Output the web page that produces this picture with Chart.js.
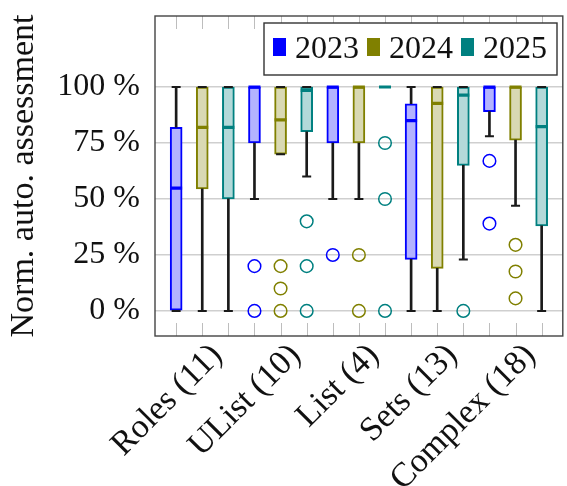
<!DOCTYPE html>
<html>
<head>
<meta charset="utf-8">
<script src="https://cdn.jsdelivr.net/npm/chart.js@4.4.1/dist/chart.umd.min.js"></script>
<style>
  html, body { margin: 0; padding: 0; background: #fff; overflow: hidden; }
  #wrap { width: 572px; height: 486px; }
</style>
</head>
<body>
<div id="wrap"><canvas id="chart" width="572" height="486"></canvas></div>
<script>
// categories and years
const categories = ['Roles (11)', 'UList (10)', 'List (4)', 'Sets (13)', 'Complex (18)'];
const years = ['2023', '2024', '2025'];
const yTicks = [0, 25, 50, 75, 100];

// box stats per category: [min, q1, median, q3, max]
const stats2023 = [
    [0, 0, 54.8, 82, 100],
    [50, 75, 100, 100, 100],
    [50, 75, 100, 100, 100],
    [0, 23, 85, 92.5, 100],
    [78, 89, 100, 100, 100]
];
const stats2024 = [
    [0, 54.5, 82, 100, 100],
    [70, 70, 85.3, 100, 100],
    [50, 75, 100, 100, 100],
    [0, 19, 92.7, 100, 100],
    [47, 76.3, 100, 100, 100]
];
const stats2025 = [
    [0, 50, 82, 100, 100],
    [60, 80, 98.5, 100, 100],
    [100, 100, 100, 100, 100],
    [23, 65, 96.4, 100, 100],
    [0, 38, 82.3, 100, 100]
];

// outliers per category
const outliers2023 = [[], [20, 0], [25], [], [67, 39]];
const outliers2024 = [[], [20, 10, 0], [25, 0], [], [29.5, 17.6, 5.6]];
const outliers2025 = [[], [40, 20, 0], [75, 50, 0], [0], []];

const allStats = [stats2023, stats2024, stats2025];
const allOutliers = [outliers2023, outliers2024, outliers2025];

const lineColors = ['#0000ff', '#808000', '#008080'];
const fillColors = ['#b3b3ff', '#d9d9b3', '#b3d9d9'];

const FONT = '"Liberation Serif", "Times New Roman", serif';

// position of a box on the x axis: 3 boxes per category
const pos = (g, s) => g * 3 + s;

const datasets = [];

years.forEach((year, s) => {
    const st = allStats[s];
    datasets.push({
        type: 'bar',
        label: year,
        data: st.map((v, g) => ({ x: pos(g, s), y: [v[1], v[3]] })),
        backgroundColor: fillColors[s],
        borderColor: lineColors[s],
        borderWidth: 2,
        borderSkipped: false,
        barThickness: 12,
        grouped: false,
        order: 4
    });
    datasets.push({
        type: 'scatter',
        label: year + ' median',
        data: st.map((v, g) => ({ x: pos(g, s), y: v[2] })),
        pointStyle: 'line',
        radius: 6,
        borderWidth: 3.2,
        borderColor: lineColors[s],
        order: 0
    });
    const pts = [];
    allOutliers[s].forEach((list, g) => list.forEach(o => pts.push({ x: pos(g, s), y: o })));
    datasets.push({
        type: 'scatter',
        label: year + ' outliers',
        data: pts,
        pointStyle: 'circle',
        radius: 6.3,
        borderWidth: 1.5,
        borderColor: lineColors[s],
        backgroundColor: 'rgba(0,0,0,0)',
        order: 1
    });
});

// whisker stems and caps (black)
const stems = [];
const caps = [];
years.forEach((year, s) => {
    allStats[s].forEach((v, g) => {
        stems.push({ x: pos(g, s), y: [v[3], v[4]] });
        stems.push({ x: pos(g, s), y: [v[0], v[1]] });
        caps.push({ x: pos(g, s), y: v[4] });
        caps.push({ x: pos(g, s), y: v[0] });
    });
});
datasets.push({
    type: 'bar',
    label: 'whiskers',
    data: stems,
    backgroundColor: '#1a1a1a',
    borderWidth: 0,
    barThickness: 2,
    grouped: false,
    order: 3
});
datasets.push({
    type: 'scatter',
    label: 'caps',
    data: caps,
    pointStyle: 'line',
    radius: 4.5,
    borderWidth: 2,
    borderColor: '#1a1a1a',
    order: 2
});

// frame, inner tick marks and legend
const framePlugin = {
    id: 'frame',
    beforeDatasetsDraw(chart) {
        const { ctx, chartArea: a, scales } = chart;
        ctx.save();
        ctx.strokeStyle = '#bdbdbd';
        ctx.lineWidth = 1;
        for (let i = 0; i < categories.length * years.length; i++) {
            const px = Math.round(scales.x.getPixelForValue(i)) + 0.5;
            ctx.beginPath();
            ctx.moveTo(px, a.bottom);
            ctx.lineTo(px, a.bottom - 13);
            ctx.moveTo(px, a.top);
            ctx.lineTo(px, a.top + 13);
            ctx.stroke();
        }
        ctx.restore();
    },
    afterDraw(chart) {
        const { ctx, chartArea: a } = chart;
        ctx.save();
        ctx.strokeStyle = '#444';
        ctx.lineWidth = 1.4;
        ctx.strokeRect(a.left, a.top, a.right - a.left, a.bottom - a.top);

        // legend
        const lx = 264, ly = 23, lw = 293, lh = 52;
        ctx.fillStyle = '#fff';
        ctx.fillRect(lx, ly, lw, lh);
        ctx.strokeStyle = '#333';
        ctx.lineWidth = 1.4;
        ctx.strokeRect(lx, ly, lw, lh);
        ctx.font = '32px ' + FONT;
        ctx.textBaseline = 'middle';
        let x = lx + 9;
        years.forEach((year, s) => {
            ctx.fillStyle = lineColors[s];
            ctx.fillRect(x, ly + 15, 13, 18);
            x += 22;
            ctx.fillStyle = '#111';
            ctx.fillText(year, x, ly + lh / 2 + 1);
            x += ctx.measureText(year).width + 8;
        });
        ctx.restore();
    }
};

new Chart(document.getElementById('chart'), {
    type: 'bar',
    data: { datasets: datasets },
    options: {
        responsive: false,
        animation: false,
        layout: { padding: { top: 16, right: 3, left: 0, bottom: 0 } },
        plugins: {
            legend: { display: false },
            tooltip: { enabled: false }
        },
        scales: {
            x: {
                type: 'linear',
                offset: false,
                min: -0.81,
                max: 14.81,
                grid: { display: false, drawTicks: false },
                border: { display: false },
                afterBuildTicks(scale) {
                    scale.ticks = categories.map((c, g) => ({ value: pos(g, 1) }));
                },
                afterFit(scale) {
                    scale.height = 150;
                    scale.paddingLeft = 0;
                    scale.paddingRight = 0;
                },
                ticks: {
                    autoSkip: false,
                    minRotation: 45,
                    maxRotation: 45,
                    padding: 0,
                    labelOffset: 15,
                    color: '#111',
                    font: { family: FONT, size: 34 },
                    callback: (v, i) => categories[i]
                }
            },
            y: {
                min: -11.2,
                max: 131.7,
                grid: { color: '#cfcfcf', lineWidth: 1.5, drawTicks: false },
                border: { display: false },
                afterBuildTicks(scale) {
                    scale.ticks = yTicks.map(v => ({ value: v }));
                },
                afterFit(scale) {
                    scale.width = 155;
                    scale.paddingTop = 0;
                    scale.paddingBottom = 0;
                },
                ticks: {
                    padding: 15,
                    color: '#111',
                    font: { family: FONT, size: 32 },
                    callback: v => v + ' %'
                },
                title: {
                    display: true,
                    text: 'Norm. auto. assessment',
                    color: '#111',
                    font: { family: FONT, size: 34 },
                    padding: { top: 4, bottom: 0 }
                }
            }
        }
    },
    plugins: [framePlugin]
});
</script>
</body>
</html>
